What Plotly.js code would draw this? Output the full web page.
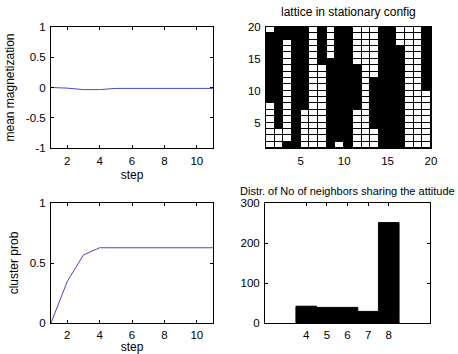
<!DOCTYPE html>
<html>
<head>
<meta charset="utf-8">
<script src="https://cdn.plot.ly/plotly-3.0.1.min.js"></script>
<style>
  html, body { margin: 0; padding: 0; background: #ffffff; }
  #chart { width: 458px; height: 354px; }
</style>
</head>
<body>
<div id="chart"></div>
<script>
// ---- data ----
const steps = [1, 2, 3, 4, 5, 6, 7, 8, 9, 10, 11];
const meanMagnetization = [0.0, -0.01, -0.035, -0.035, -0.015, -0.015, -0.015, -0.015, -0.015, -0.015, -0.015];
const clusterProb = [0.0, 0.345, 0.567, 0.627, 0.627, 0.627, 0.627, 0.627, 0.627, 0.627, 0.627];

// lattice in stationary config: 1 = black, 0 = white; first string is the top row
const latticeRows = [
  "0111101011000110001",
  "1111101011000110001",
  "1101101011000110001",
  "1101101011000111001",
  "1101101011000111001",
  "1101101111000111001",
  "1101100111100111001",
  "1101100111100111001",
  "1101100111101111001",
  "1101100111101111001",
  "1101100111101111000",
  "1101100111101111000",
  "0101100111101111000",
  "0101000111001111000",
  "0101000111001111000",
  "0101000111001111000",
  "0001000111000111000",
  "0001000111000111000",
  "0011000101000111000"
];
const latticeEdges = [1,2,3,4,5,6,7,8,9,10,11,12,13,14,15,16,17,18,19,20];
const latticeTicks = [5, 10, 15, 20];

const neighborCounts = [4, 5, 6, 7, 8];
const neighborFreq = [42, 39, 39, 29, 251];

// ---- build ----
const latticeZ = latticeRows.slice().reverse().map(s => s.split('').map(Number));

const lineColor = 'rgb(72,72,205)';
const fam = 'Arial, "Liberation Sans", sans-serif';
const tickFont = { family: fam, size: 11.5, color: '#000' };
const titleFont = { family: fam, size: 12, color: '#000' };

function axisBase(extra) {
  return Object.assign({
    showline: true, linecolor: '#000', linewidth: 1, mirror: 'ticks',
    ticks: 'inside', ticklen: 3, tickcolor: '#000', tickwidth: 1,
    showgrid: false, zeroline: false, fixedrange: true,
    tickfont: tickFont
  }, extra);
}

const traces = [
  { x: steps, y: meanMagnetization, type: 'scatter', mode: 'lines',
    line: { color: lineColor, width: 1 }, xaxis: 'x', yaxis: 'y', hoverinfo: 'skip' },
  { z: latticeZ, x: latticeEdges, y: latticeEdges, type: 'heatmap',
    colorscale: [[0, '#ffffff'], [1, '#000000']], zmin: 0, zmax: 1,
    showscale: false, xgap: 1, ygap: 1, xaxis: 'x2', yaxis: 'y2', hoverinfo: 'skip' },
  { x: steps, y: clusterProb, type: 'scatter', mode: 'lines',
    line: { color: lineColor, width: 1 }, xaxis: 'x3', yaxis: 'y3', hoverinfo: 'skip' },
  { x: neighborCounts, y: neighborFreq, type: 'bar', width: 1,
    marker: { color: '#000', line: { color: '#000', width: 1 } },
    xaxis: 'x4', yaxis: 'y4', hoverinfo: 'skip' }
];

const W = 458, H = 354;
const dx = (a, b) => [a / W, b / W];
const dy = (top, bottom) => [(H - bottom) / H, (H - top) / H];

const layout = {
  width: W, height: H,
  margin: { l: 0, r: 0, t: 0, b: 0 },
  paper_bgcolor: '#fff', plot_bgcolor: 'rgba(0,0,0,0)',
  showlegend: false, font: tickFont, bargap: 0,
  xaxis: axisBase({ domain: dx(51, 213), anchor: 'y', range: [1, 11], ticklabelstandoff: 2,
    tickvals: [2, 4, 6, 8, 10], title: { text: 'step', font: titleFont, standoff: 4 } }),
  yaxis: axisBase({ domain: dy(27, 148), anchor: 'x', range: [-1, 1], ticklabelstandoff: 2,
    tickvals: [-1, -0.5, 0, 0.5, 1], ticktext: ['-1', '-0.5', '0', '0.5', '1'],
    title: { text: 'mean magnetization', font: titleFont, standoff: 8 } }),
  xaxis2: axisBase({ domain: dx(266, 431), anchor: 'y2', range: [1, 20], ticklabelstandoff: 2,
    tickvals: latticeTicks }),
  yaxis2: axisBase({ domain: dy(27, 148), anchor: 'x2', range: [1, 20], ticklabelstandoff: 2,
    tickvals: latticeTicks }),
  xaxis3: axisBase({ domain: dx(51, 213), anchor: 'y3', range: [1, 11], ticklabelstandoff: 1,
    tickvals: [2, 4, 6, 8, 10], title: { text: 'step', font: titleFont, standoff: 4 } }),
  yaxis3: axisBase({ domain: dy(203, 323), anchor: 'x3', range: [0, 1], ticklabelstandoff: 2,
    tickvals: [0, 0.5, 1], ticktext: ['0', '0.5', '1'],
    title: { text: 'cluster prob', font: titleFont, standoff: 8 } }),
  xaxis4: axisBase({ domain: dx(265, 430), anchor: 'y4', range: [2, 10], ticklabelstandoff: 1,
    tickvals: neighborCounts }),
  yaxis4: axisBase({ domain: dy(203, 323), anchor: 'x4', range: [0, 300], ticklabelstandoff: 2,
    tickvals: [0, 100, 200, 300] }),
  shapes: [
    { type: 'rect', xref: 'x2', yref: 'y2', layer: 'below',
      x0: latticeEdges[0], x1: latticeEdges[latticeEdges.length - 1],
      y0: latticeEdges[0], y1: latticeEdges[latticeEdges.length - 1],
      fillcolor: '#000', line: { width: 0 } }
  ],
  annotations: [
    { text: 'lattice in stationary config', xref: 'paper', yref: 'paper',
      x: (266 + 431) / 2 / W, y: (H - 12) / H, xanchor: 'center', yanchor: 'middle',
      showarrow: false, font: titleFont },
    { text: 'Distr. of No of neighbors sharing the attitude', xref: 'paper', yref: 'paper',
      x: (265 + 430) / 2 / W, y: (H - 191) / H, xanchor: 'center', yanchor: 'middle',
      showarrow: false, font: { family: fam, size: 11, color: '#000' } }
  ]
};

Plotly.newPlot('chart', traces, layout, { staticPlot: true, displayModeBar: false });
</script>
</body>
</html>
